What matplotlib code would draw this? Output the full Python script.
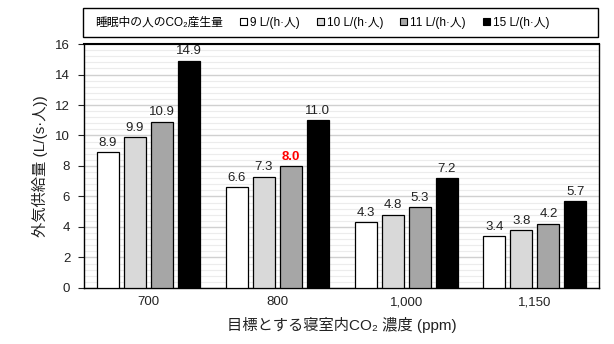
import matplotlib
matplotlib.use('Agg')
import numpy as np
import matplotlib.pyplot as plt
from matplotlib.patches import Patch, Rectangle
from matplotlib.ticker import MultipleLocator

plt.rcParams['font.family'] = ['Liberation Sans', 'Noto Sans CJK JP']

#===Data===#
categories = ['700', '800', '1,000', '1,150']
series_names = ['9 L/(h·人)', '10 L/(h·人)', '11 L/(h·人)', '15 L/(h·人)']
legend_title = '睡眠中の人のCO₂産生量'
rate_9 = [8.9, 6.6, 4.3, 3.4]
rate_10 = [9.9, 7.3, 4.8, 3.8]
rate_11 = [10.9, 8.0, 5.3, 4.2]
rate_15 = [14.9, 11.0, 7.2, 5.7]
series = [rate_9, rate_10, rate_11, rate_15]
colors = ['white', '#d9d9d9', '#a6a6a6', 'black']

#===Plot===#
fig = plt.figure(figsize=(6.14, 3.44), dpi=100)
ax = fig.add_axes([0.137, 0.163, 0.839, 0.709])

x = np.arange(len(categories))
width = 0.171
step = 0.21
for i, vals in enumerate(series):
    pos = x + (i - 1.5) * step
    ax.bar(pos, vals, width, color=colors[i], edgecolor='black', linewidth=0.9, zorder=3)
    for j, v in enumerate(vals):
        red = (i == 2 and j == 1)
        ax.annotate('%.1f' % v, (pos[j], v), xytext=(0, 2.5), textcoords='offset points',
                    ha='center', va='bottom', fontsize=9.5,
                    color='red' if red else '#222222',
                    fontweight='bold' if red else 'normal')

ax.set_xlim(-0.5, 3.5)
ax.set_ylim(0, 16)
ax.set_xticks(x)
ax.set_xticklabels(categories)
ax.yaxis.set_major_locator(MultipleLocator(2))
ax.yaxis.set_minor_locator(MultipleLocator(0.4))
ax.grid(axis='y', which='major', color='#d0d0d0', linewidth=1.0, zorder=0)
ax.grid(axis='y', which='minor', color='#ececec', linewidth=0.8, zorder=0)
ax.tick_params(axis='x', length=0, labelsize=9.5, pad=6, colors='#222222')
ax.tick_params(axis='y', which='major', length=4, direction='out', labelsize=9.5,
               pad=6, colors='#222222')
ax.tick_params(axis='y', which='minor', length=0)
for s in ax.spines.values():
    s.set_color('black')
    s.set_linewidth(1.0)
ax.spines['top'].set_linewidth(1.5)

ax.set_ylabel('外気供給量 (L/(s·人))', fontsize=11, color='#222222', labelpad=5)
ax.set_xlabel('目標とする寝室内CO₂ 濃度 (ppm)', fontsize=11, color='#222222', labelpad=6)

# legend box
fig.patches.append(Rectangle((0.135, 0.8924), 0.839, 0.0843, transform=fig.transFigure,
                             facecolor='white', edgecolor='black', linewidth=1.0))
handles = [Patch(facecolor='none', edgecolor='none')]
handles += [Patch(facecolor=c, edgecolor='black', linewidth=0.8) for c in colors]
labels = [legend_title] + series_names
leg = fig.legend(handles, labels, loc='center left',
                 bbox_to_anchor=(0.138, 0.9345), ncol=5, fontsize=8.5, frameon=False,
                 handlelength=0.6, handleheight=0.6, handletextpad=0.25,
                 columnspacing=1.45, borderaxespad=0, borderpad=0)
leg.legend_handles[0].set_visible(False)
leg.legend_handles[0].set_width(0)

plt.savefig('out.png', dpi=100)
